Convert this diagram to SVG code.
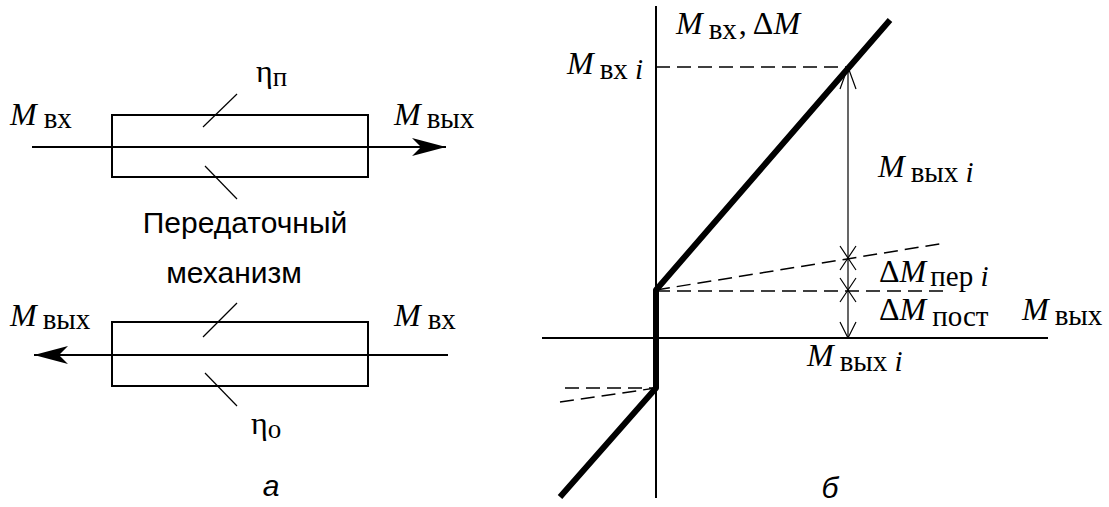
<svg xmlns="http://www.w3.org/2000/svg" width="1109" height="507" viewBox="0 0 1109 507">
<style>
.ln{stroke:#000;fill:none;stroke-linecap:butt}
.box{stroke:#000;fill:none;stroke-width:2}
.thin{stroke-width:1.2}
.axis{stroke-width:2}
.thick{stroke-width:6;stroke-linejoin:round}
.dash{stroke-dasharray:14 7;stroke-width:1.5}
.tr{font-family:"Liberation Serif","Times New Roman",serif;fill:#000}
.mi{font-style:italic;font-size:32px}
.sub{font-size:29px}
.sans{font-family:"Liberation Sans",Arial,sans-serif;font-size:30px;fill:#000}
</style>
<defs>
<marker id="barb" markerUnits="userSpaceOnUse" markerWidth="34" markerHeight="20" refX="34" refY="10" orient="auto">
<path d="M0,1 L34,10 L0,19 L9,10 Z" fill="#000"/>
</marker>
</defs>

<g id="connectors">
<line class="ln axis" x1="32" y1="147" x2="446" y2="147" marker-end="url(#barb)"/>
<line class="ln axis" x1="448" y1="355" x2="34" y2="355" marker-end="url(#barb)"/>
</g>

<g id="mech-forward">
<rect class="box" x="112" y="115" width="256" height="62"/>
<line class="ln thin" x1="203" y1="127" x2="237" y2="94"/>
<line class="ln thin" x1="205" y1="166" x2="237" y2="199"/>
<text class="tr" x="256" y="82" font-size="32">η<tspan font-size="27" dy="4">п</tspan></text>
<text class="tr mi" x="10" y="125">M<tspan class="sub" font-style="normal" dx="7" dy="3">вх</tspan></text>
<text class="tr mi" x="394" y="125">M<tspan class="sub" font-style="normal" dx="6" dy="3">вых</tspan></text>
</g>

<g id="mech-label">
<text class="sans" x="245" y="233" text-anchor="middle" font-size="31">Передаточный</text>
<text class="sans" x="234" y="283" text-anchor="middle" font-size="33">механизм</text>
</g>

<g id="mech-reverse">
<rect class="box" x="112" y="322" width="256" height="64"/>
<line class="ln thin" x1="203" y1="337" x2="237" y2="303"/>
<line class="ln thin" x1="205" y1="373" x2="237" y2="406"/>
<text class="tr" x="251" y="434" font-size="32">η<tspan font-size="27" dy="4">о</tspan></text>
<text class="tr mi" x="10" y="326">M<tspan class="sub" font-style="normal" dx="6" dy="3">вых</tspan></text>
<text class="tr mi" x="394" y="326">M<tspan class="sub" font-style="normal" dx="7" dy="3">вх</tspan></text>
<text class="sans" x="271" y="496" text-anchor="middle" font-style="italic" font-size="40">а</text>
</g>

<g id="graph">
<line class="ln axis" x1="656" y1="6" x2="656" y2="498"/>
<line class="ln axis" x1="542" y1="338" x2="1048" y2="338"/>
<line class="ln dash" x1="656" y1="67" x2="848" y2="67"/>
<line class="ln dash" x1="656" y1="290" x2="945" y2="243"/>
<line class="ln dash" x1="656" y1="291" x2="946" y2="291"/>
<line class="ln dash" x1="565" y1="388" x2="656" y2="388"/>
<line class="ln dash" x1="560" y1="402" x2="656" y2="388"/>
<polyline class="ln thick" points="890,20 656,290 656,388 560,497"/>
<line class="ln thin" x1="848" y1="67" x2="848" y2="338"/>
<path class="ln thin" d="M840,89 L848,67 L856,89 M840,246 L848,258 L856,246 M840,270 L848,258 L856,270 M840,278 L848,290 L856,278 M840,302 L848,290 L856,302 M840,322 L848,338 L856,322"/>
<text class="tr mi" x="676" y="34">M<tspan class="sub" font-style="normal" dx="6" dy="5">вх</tspan><tspan font-style="normal" dx="2" dy="-5">,</tspan><tspan font-style="normal" dx="6">Δ</tspan>M</text>
<text class="tr mi" x="567" y="74">M<tspan class="sub" font-style="normal" dx="6" dy="5">вх <tspan font-style="italic">i</tspan></tspan></text>
<text class="tr mi" x="878" y="177">M<tspan class="sub" font-style="normal" dx="6" dy="5">вых <tspan font-style="italic">i</tspan></tspan></text>
<text class="tr mi" x="879" y="282"><tspan font-style="normal">Δ</tspan>M<tspan class="sub" font-style="normal" dx="4" dy="4">пер <tspan font-style="italic">i</tspan></tspan></text>
<text class="tr mi" x="879" y="320"><tspan font-style="normal">Δ</tspan>M<tspan class="sub" font-style="normal" dx="6" dy="6">пост</tspan></text>
<text class="tr mi" x="1022" y="320">M<tspan class="sub" font-style="normal" dx="6" dy="5">вых</tspan></text>
<text class="tr mi" x="807" y="366">M<tspan class="sub" font-style="normal" dx="6" dy="5">вых <tspan font-style="italic">i</tspan></tspan></text>
<text class="sans" x="830" y="498" text-anchor="middle" font-style="italic" font-size="40">б</text>
</g>
</svg>
